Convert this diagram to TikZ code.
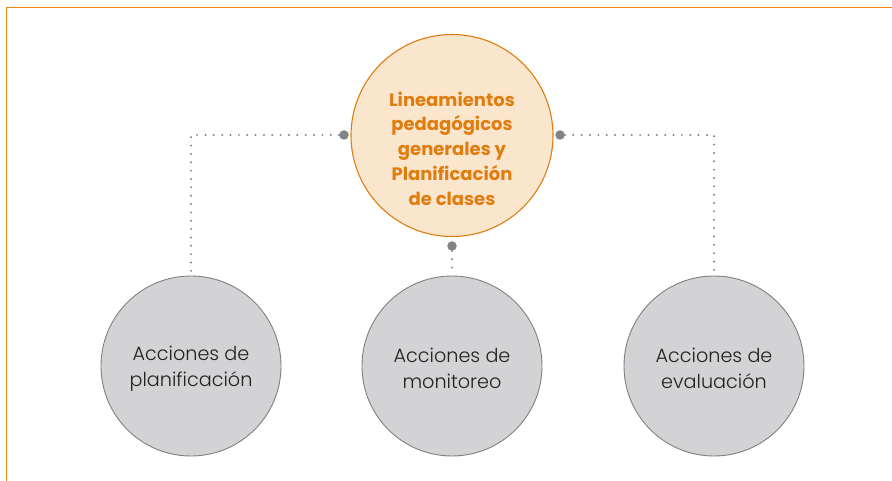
\documentclass[tikz,border=0pt]{standalone}
\usepackage{fontspec}
\setmainfont{Poppins}
\newfontfamily\lightfont{Poppins Light}
\definecolor{frameorange}{HTML}{EE8A12}
\definecolor{titleorange}{HTML}{E07D0E}
\definecolor{peach}{HTML}{FAE5CD}
\definecolor{circgray}{HTML}{D3D3D5}
\definecolor{edgegray}{HTML}{808080}
\definecolor{dotgray}{HTML}{828386}
\definecolor{textgray}{HTML}{231F20}
\tikzset{
  topcircle/.style={circle, draw=titleorange, line width=1.1pt, fill=peach, minimum size=202pt, inner sep=0pt},
  toptext/.style={align=center, text=titleorange, inner sep=0pt, font=\fontsize{18}{24.7}\selectfont\bfseries},
  subcircle/.style={circle, draw=edgegray, line width=0.9pt, fill=circgray, minimum size=180pt, inner sep=0pt},
  subtext/.style={align=center, text=textgray, inner sep=0pt, font=\lightfont\fontsize{19.2}{26}\selectfont},
  bigdot/.style={circle, fill=dotgray, minimum size=9.5pt, inner sep=0pt},
  dotline/.style={draw=dotgray, line width=2.2pt, line cap=round, dash pattern=on 0pt off 8.35pt},
}
\begin{document}
\begin{tikzpicture}[x=1pt,y=-1pt]
\useasboundingbox (0,0) rectangle (892,481);
% frame
\draw[frameorange, line width=1.7pt] (6.5,481) -- (6.5,7.5) -- (892,7.5);
\coordinate (lc) at (191,135);
\coordinate (rc) at (714,135);
\node[subcircle] (pl) at (191,366) {};
\node[subcircle] (mo) at (452,366) {};
\node[subcircle] (ev) at (714,366) {};
\node[subtext] (plt) at (191,368.5) {Acciones de\\planificación};
\node[subtext] (mot) at (452,368.5) {Acciones de\\monitoreo};
\node[subtext] (evt) at (714,368.5) {Acciones de\\evaluación};
\node[topcircle] (top) at (452,135.5) {};
\node[toptext] (topt) at (452,148.5) {Lineamientos\\pedagógicos\\generales y\\Planificación\\de clases};
\node[bigdot] (dl) at (344,135) {};
\node[bigdot] (dr) at (560,135) {};
\node[bigdot] (db) at (452,246) {};
\draw[dotline] (dl) -- (lc) -- (pl.north);
\draw[dotline] (dr) -- (rc) -- (ev.north);
\draw[dotline] (db) -- (mo.north);
\end{tikzpicture}
\end{document}
